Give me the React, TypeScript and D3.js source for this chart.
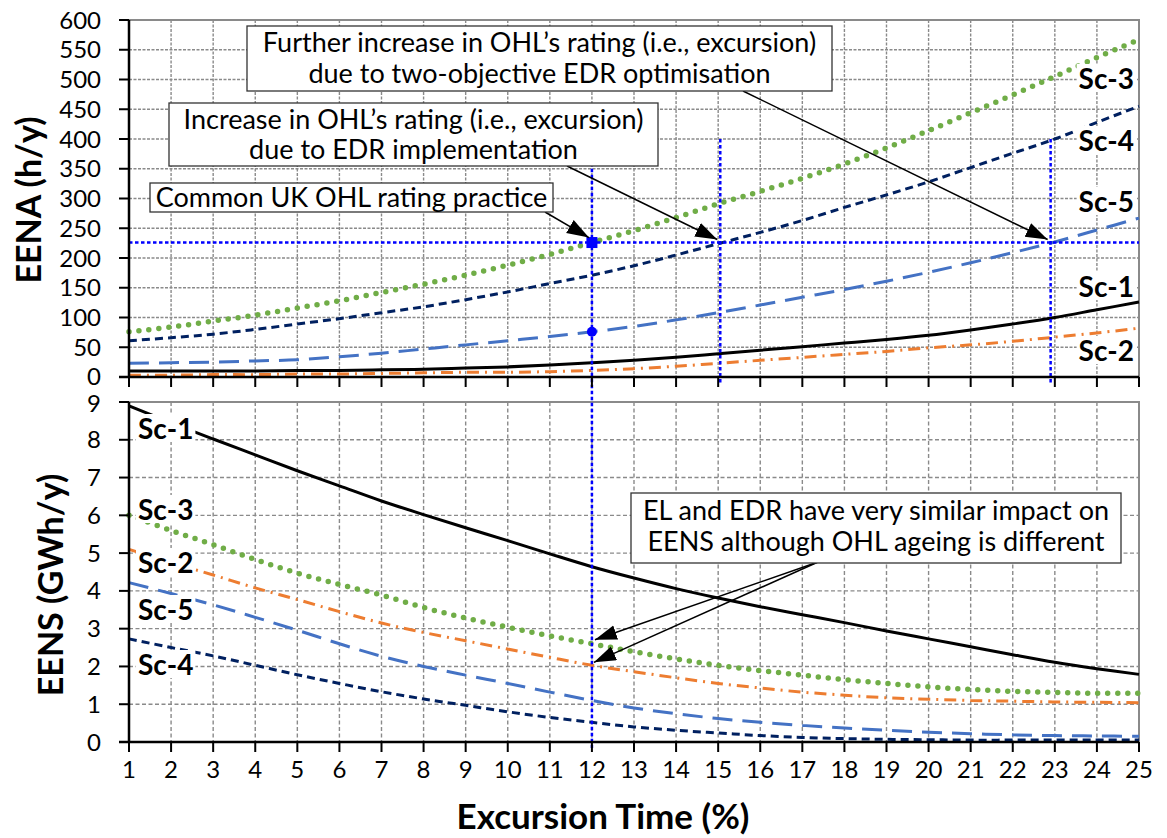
import React, { Component } from 'react';
import * as d3 from 'd3';

// excursion time (%) on the shared x axis
const excursion = [1, 2, 3, 4, 5, 6, 7, 8, 9, 10, 11, 12, 13, 14, 15, 16, 17, 18, 19, 20, 21, 22, 23, 24, 25];

// EENA (h/y) - upper panel
const eenaSc1 = [10, 10, 10, 10, 11, 11, 12, 13, 15, 17, 20, 24, 28, 33, 39, 45, 51, 57, 63, 70, 79, 89, 100, 113, 126];
const eenaSc2 = [3, 3, 4, 4, 5, 5, 6, 7, 8, 8, 9, 11, 14, 18, 23, 28, 33, 38, 43, 49, 54, 60, 67, 74, 82];
const eenaSc3 = [76, 84, 94, 104, 116, 128, 142, 156, 171, 188, 206, 226, 246, 268, 291, 312, 334, 358, 385, 414, 444, 474, 505, 537, 567];
const eenaSc4 = [61, 66, 72, 80, 89, 98, 108, 118, 130, 143, 157, 171, 187, 205, 224, 243, 263, 285, 306, 328, 352, 376, 400, 428, 455];
const eenaSc5 = [23, 24, 25, 27, 29, 34, 40, 47, 54, 61, 68, 76, 85, 96, 108, 121, 134, 147, 161, 176, 192, 209, 227, 247, 267];

// EENS (GWh/y) - lower panel
const eensSc1 = [8.9, 8.45, 8.02, 7.6, 7.18, 6.78, 6.38, 6.02, 5.67, 5.33, 4.98, 4.64, 4.34, 4.06, 3.81, 3.58, 3.37, 3.16, 2.94, 2.73, 2.52, 2.31, 2.11, 1.94, 1.79];
const eensSc2 = [5.1, 4.75, 4.42, 4.08, 3.77, 3.45, 3.15, 2.9, 2.68, 2.46, 2.24, 2.03, 1.86, 1.7, 1.55, 1.43, 1.32, 1.24, 1.17, 1.13, 1.1, 1.08, 1.06, 1.05, 1.04];
const eensSc3 = [6.0, 5.6, 5.22, 4.83, 4.47, 4.17, 3.89, 3.56, 3.28, 3.04, 2.81, 2.6, 2.39, 2.2, 2.03, 1.89, 1.77, 1.65, 1.55, 1.46, 1.39, 1.34, 1.31, 1.29, 1.29];
const eensSc4 = [2.73, 2.5, 2.28, 2.03, 1.78, 1.55, 1.33, 1.14, 0.97, 0.8, 0.65, 0.52, 0.4, 0.31, 0.24, 0.17, 0.12, 0.09, 0.07, 0.06, 0.05, 0.05, 0.05, 0.05, 0.05];
const eensSc5 = [4.22, 3.93, 3.63, 3.3, 2.96, 2.6, 2.27, 2.0, 1.77, 1.55, 1.32, 1.1, 0.9, 0.75, 0.62, 0.52, 0.44, 0.37, 0.31, 0.26, 0.22, 0.19, 0.17, 0.16, 0.15];

const eenaTicks = [0, 50, 100, 150, 200, 250, 300, 350, 400, 450, 500, 550, 600];
const eensTicks = [0, 1, 2, 3, 4, 5, 6, 7, 8, 9];

// reference lines
const eenaLimit = 226;
const commonExcursion = 12;
const edrExcursion = 15.05;
const twoObjExcursion = 22.9;
const sc5AtCommon = 76;
const verticalTop = [370, 400, 400];

const upperNames = ['Sc-3', 'Sc-4', 'Sc-5', 'Sc-1', 'Sc-2'];
const lowerNames = ['Sc-1', 'Sc-3', 'Sc-2', 'Sc-5', 'Sc-4'];

const box1Text = ['Further increase in OHL\u2019s rating (i.e., excursion)', 'due to two-objective EDR optimisation'];
const box2Text = ['Increase in OHL\u2019s rating (i.e., excursion)', 'due to EDR implementation'];
const box3Text = ['Common UK OHL rating practice'];
const box4Text = ['EL and EDR have very similar impact on', 'EENS although OHL ageing is different'];

const styles = {
  'Sc-1': { color: '#000000', dash: null, width: 3, cap: 'butt' },
  'Sc-2': { color: '#ED7D31', dash: '12,6,2,6', width: 3, cap: 'butt' },
  'Sc-3': { color: '#70AD47', dash: '0,10', width: 5.5, cap: 'round' },
  'Sc-4': { color: '#002060', dash: '8,5', width: 3, cap: 'butt' },
  'Sc-5': { color: '#4472C4', dash: '20,10', width: 3, cap: 'butt' },
};

const FONT = 'Lato, "Open Sans", sans-serif';

class App extends Component {
  ref = React.createRef();

  componentDidMount() {
    this.drawChart();
  }

  drawChart() {
    const svg = d3.select(this.ref.current);
    svg.selectAll('*').remove();

    const left = 129, right = 1139;
    const top1 = 20, bot1 = 377, top2 = 402, bot2 = 742;

    const x = d3.scaleLinear().domain([1, 25]).range([left, right]);
    const y1 = d3.scaleLinear().domain([0, 600]).range([bot1, top1]);
    const y2 = d3.scaleLinear().domain([0, 9]).range([bot2, top2]);

    const defs = svg.append('defs');
    defs.append('marker')
      .attr('id', 'arrow')
      .attr('markerUnits', 'userSpaceOnUse')
      .attr('markerWidth', 24).attr('markerHeight', 16)
      .attr('refX', 22).attr('refY', 7.5)
      .attr('orient', 'auto')
      .append('path').attr('d', 'M0,0 L22,7.5 L0,15 Z').attr('fill', '#000');

    const panels = [
      { y: y1, top: top1, bot: bot1, ticks: eenaTicks, grid: '3,1.5' },
      { y: y2, top: top2, bot: bot2, ticks: eensTicks, grid: '4,2.5' },
    ];

    panels.forEach(p => {
      const g = svg.append('g');
      // gridlines
      g.selectAll('.vg').data(excursion.slice(1, -1)).enter().append('line')
        .attr('x1', d => x(d)).attr('x2', d => x(d))
        .attr('y1', p.top).attr('y2', p.bot)
        .attr('stroke', '#8a8a8a').attr('stroke-width', 1.4).attr('stroke-dasharray', p.grid);
      g.selectAll('.hg').data(p.ticks.slice(1)).enter().append('line')
        .attr('x1', left).attr('x2', right)
        .attr('y1', d => p.y(d)).attr('y2', d => p.y(d))
        .attr('stroke', '#8a8a8a').attr('stroke-width', 1.4).attr('stroke-dasharray', p.grid);
      // border
      g.append('path')
        .attr('d', `M${left},${p.top} H${right} V${p.bot}`)
        .attr('fill', 'none').attr('stroke', '#8a8a8a').attr('stroke-width', 2);
    });

    const line = (yS) => d3.line().x((d, i) => x(excursion[i])).y(d => yS(d)).curve(d3.curveCatmullRom.alpha(0.5));

    const upper = { 'Sc-1': eenaSc1, 'Sc-2': eenaSc2, 'Sc-3': eenaSc3, 'Sc-4': eenaSc4, 'Sc-5': eenaSc5 };
    const lower = { 'Sc-1': eensSc1, 'Sc-2': eensSc2, 'Sc-3': eensSc3, 'Sc-4': eensSc4, 'Sc-5': eensSc5 };

    const drawSeries = (data, yS) => {
      ['Sc-2', 'Sc-5', 'Sc-4', 'Sc-3', 'Sc-1'].forEach(k => {
        const s = styles[k];
        svg.append('path')
          .attr('d', line(yS)(data[k]))
          .attr('fill', 'none')
          .attr('stroke', s.color)
          .attr('stroke-width', s.width)
          .attr('stroke-linecap', s.cap)
          .attr('stroke-dasharray', s.dash);
      });
    };
    drawSeries(upper, y1);
    drawSeries(lower, y2);

    // blue reference lines
    const blue = svg.append('g').attr('stroke', '#0000FF').attr('stroke-width', 2.5).attr('stroke-dasharray', '3.5,2.5');
    blue.append('line').attr('x1', left).attr('x2', right).attr('y1', y1(eenaLimit)).attr('y2', y1(eenaLimit));
    blue.append('line').attr('x1', x(commonExcursion)).attr('x2', x(commonExcursion)).attr('y1', y1(verticalTop[0])).attr('y2', bot2 + 6);
    blue.append('line').attr('x1', x(edrExcursion)).attr('x2', x(edrExcursion)).attr('y1', y1(verticalTop[1])).attr('y2', bot1 + 7);
    blue.append('line').attr('x1', x(twoObjExcursion)).attr('x2', x(twoObjExcursion)).attr('y1', y1(verticalTop[2])).attr('y2', bot1 + 7);
    svg.append('rect')
      .attr('x', x(commonExcursion) - 5.5).attr('y', y1(eenaLimit) - 5.5)
      .attr('width', 11).attr('height', 11).attr('fill', '#0000FF');
    svg.append('circle')
      .attr('cx', x(commonExcursion)).attr('cy', y1(sc5AtCommon)).attr('r', 5).attr('fill', '#0000FF');

    // axes
    panels.forEach((p, pi) => {
      const g = svg.append('g').attr('font-family', FONT).attr('font-size', 24).attr('fill', '#000');
      g.append('line').attr('x1', left).attr('x2', left).attr('y1', p.top).attr('y2', p.bot).attr('stroke', '#000').attr('stroke-width', 2.5);
      g.append('line').attr('x1', left - 10).attr('x2', right).attr('y1', p.bot).attr('y2', p.bot).attr('stroke', '#000').attr('stroke-width', 2.5);
      g.selectAll('.yt').data(p.ticks).enter().append('line')
        .attr('x1', left - 10).attr('x2', left)
        .attr('y1', d => p.y(d)).attr('y2', d => p.y(d))
        .attr('stroke', '#000').attr('stroke-width', 2);
      g.selectAll('.xt').data(excursion).enter().append('line')
        .attr('x1', d => x(d)).attr('x2', d => x(d))
        .attr('y1', p.bot).attr('y2', p.bot + 10)
        .attr('stroke', '#000').attr('stroke-width', 2);
      // nudge the labels that meet between the panels apart a little
      const nudge = (d) => (pi === 0 && d === 0 ? -1 : pi === 1 && d === 9 ? 1 : 0);
      g.selectAll('.yl').data(p.ticks).enter().append('text')
        .attr('x', 101).attr('y', d => p.y(d) + 8.5 + nudge(d))
        .attr('text-anchor', 'end')
        .text(d => d);
    });

    svg.append('g').attr('font-family', FONT).attr('font-size', 24)
      .selectAll('text').data(excursion).enter().append('text')
      .attr('x', d => x(d)).attr('y', 778).attr('text-anchor', 'middle').text(d => d);

    // axis titles
    const titles = svg.append('g').attr('font-family', FONT).attr('font-weight', 'bold');
    titles.append('text').attr('transform', 'translate(41,200) rotate(-90)').attr('text-anchor', 'middle').attr('font-size', 34).text('EENA (h/y)');
    titles.append('text').attr('transform', 'translate(63,585) rotate(-90)').attr('text-anchor', 'middle').attr('font-size', 34).text('EENS (GWh/y)');
    titles.append('text').attr('x', 603).attr('y', 829).attr('text-anchor', 'middle').attr('font-size', 35).text('Excursion Time (%)');

    // series labels with white backing
    const label = (txt, xx, yy, anchor) => {
      const t = svg.append('text')
        .attr('x', xx).attr('y', yy).attr('text-anchor', anchor)
        .attr('font-family', FONT).attr('font-size', 28).attr('font-weight', 'bold')
        .text(txt);
      const b = t.node().getBBox();
      svg.insert('rect', () => t.node())
        .attr('x', b.x - 2).attr('y', b.y + 3).attr('width', b.width + 4).attr('height', b.height - 6)
        .attr('fill', '#fff');
    };
    const upperBase = [89, 151, 212, 297, 361];
    upperNames.forEach((n, i) => label(n, 1134, upperBase[i], 'end'));
    const lowerBase = [439, 520, 573, 620, 675];
    lowerNames.forEach((n, i) => label(n, 138, lowerBase[i], 'start'));

    // annotation boxes
    const box = (lines, bx, by, bw, bh, bases) => {
      svg.append('rect').attr('x', bx).attr('y', by).attr('width', bw).attr('height', bh)
        .attr('fill', '#fff').attr('stroke', '#333').attr('stroke-width', 1.3);
      lines.forEach((l, i) => {
        svg.append('text').attr('x', bx + bw / 2).attr('y', bases[i])
          .attr('text-anchor', 'middle').attr('font-family', FONT).attr('font-size', 27)
          .text(l);
      });
    };

    const arrow = (x1, yy1, x2, yy2) => {
      svg.append('line').attr('x1', x1).attr('y1', yy1).attr('x2', x2).attr('y2', yy2)
        .attr('stroke', '#000').attr('stroke-width', 1.5).attr('marker-end', 'url(#arrow)');
    };

    arrow(743, 91, x(twoObjExcursion) - 3, y1(eenaLimit) - 3);
    arrow(567, 166, x(edrExcursion) - 3, y1(eenaLimit) - 3);
    arrow(545, 212, x(commonExcursion) - 3, y1(eenaLimit) - 5);
    arrow(818, 562, x(commonExcursion) + 3, y2(eensSc3[11]) - 4);
    arrow(818, 562, x(commonExcursion) + 2, y2(eensSc2[11]) - 3);

    box(box1Text, 247, 26, 585, 65, [52, 83]);
    box(box2Text, 169, 103, 489, 63, [129, 159]);
    box(box3Text, 150, 183, 403, 29, [207]);
    box(box4Text, 631, 493, 490, 70, [520, 551]);
  }

  render() {
    return (
      <svg ref={this.ref} width={1167} height={838}
        style={{ position: 'absolute', left: 0, top: 0, background: '#fff' }} />
    );
  }
}

export default App;
